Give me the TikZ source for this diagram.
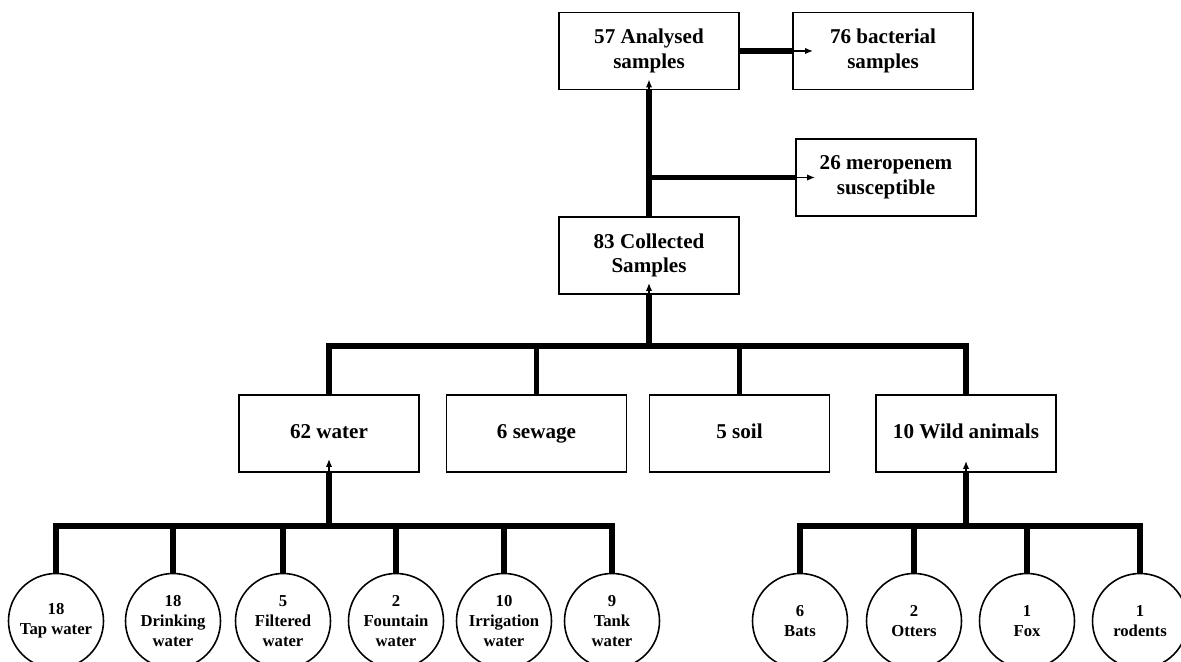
\documentclass[tikz,border=0pt]{standalone}
\usepackage{fontspec}
\setmainfont{Liberation Serif}
\usetikzlibrary{positioning, arrows.meta, calc}
\def\nodedistance{0.3cm}
\tikzstyle{arrow} = [black, -{Latex[length=4.5pt, width=3.6pt]}, line width=0.8pt]
\tikzstyle{connector} = [black, -, line width=3.4pt]
\tikzstyle{oneline} = [text height=1.7ex, text depth=0.5ex]
\newcommand{\tikzboxnode}{\node[
  draw=black, rectangle, line width=1.1pt, minimum width=3.6cm, minimum height=1.54cm, inner sep=0, align=center,
  font=\fontsize{12pt}{14pt}\selectfont\bfseries
]}
\newcommand{\tikzsourcenode}{\node[
  draw=black, circle, line width=0.9pt, minimum size=1.9cm, inner sep=0, align=center,
  font=\fontsize{9.5pt}{11.3pt}\selectfont\bfseries
]}

\begin{document}
\begin{tikzpicture}[node distance=\nodedistance]
    \useasboundingbox (0,0) rectangle (23.62,13.22);
    \clip (0,0) rectangle (23.62,13.22);

    % nodes
    \tikzboxnode at (12.98, 12.20) (analysed)   {57 Analysed\\samples};
    \tikzboxnode at (17.66, 12.20) (bacterial)  {76 bacterial\\samples};
    \tikzboxnode at (17.72, 9.67)  (meropenem)  {26 meropenem\\susceptible};
    \tikzboxnode at (12.98, 8.11)  (collected)  {83 Collected\\Samples};

    \tikzboxnode[oneline] at (6.58, 4.55)   (water)  {62 water};
    \tikzboxnode[oneline] at (10.73, 4.55)  (sewage) {6 sewage};
    \tikzboxnode[oneline] at (14.79, 4.55)  (soil)   {5 soil};
    \tikzboxnode[oneline] at (19.32, 4.55)  (wild)   {10 Wild animals};

    \tikzsourcenode at (1.12, 0.8)  (tap)        {18\\Tap water};
    \tikzsourcenode at (3.46, 0.8)  (drinking)   {18\\Drinking\\water};
    \tikzsourcenode at (5.66, 0.8)  (filtered)   {5\\Filtered\\water};
    \tikzsourcenode at (7.92, 0.8)  (fountain)   {2\\Fountain\\water};
    \tikzsourcenode at (10.08, 0.8) (irrigation) {10\\Irrigation\\water};
    \tikzsourcenode at (12.24, 0.8) (tank)       {9\\Tank\\water};

    \tikzsourcenode at (16.00, 0.8) (bats)       {6\\Bats};
    \tikzsourcenode at (18.28, 0.8) (otters)     {2\\Otters};
    \tikzsourcenode at (20.54, 0.8) (fox)        {1\\Fox};
    \tikzsourcenode at (22.80, 0.8) (rodents)    {1\\rodents};

    % bars
    \coordinate (collbar)  at ([yshift=-1.02cm]collected.south);
    \coordinate (waterbar) at ([yshift=-1.06cm]water.south);
    \coordinate (wildbar)  at ([yshift=-1.06cm]wild.south);

    % top
    \draw[connector] (analysed.east) -- (bacterial.west);
    \draw[arrow]     (bacterial.west) -- ([xshift=0.42cm]bacterial.west);
    \draw[connector] (collected.north) -- (analysed.south);
    \draw[arrow]     (analysed.south) -- ([yshift=0.22cm]analysed.south);
    \draw[connector] (collected.north |- meropenem.west) -- (meropenem.west);
    \draw[arrow]     (meropenem.west) -- ([xshift=0.4cm]meropenem.west);

    % sample types
    \draw[connector] (water.north) |- (collbar) -| (wild.north);
    \draw[connector] (sewage.north) -- (sewage.north |- collbar);
    \draw[connector] (soil.north) -- (soil.north |- collbar);
    \draw[connector] (collbar) -- (collected.south);
    \draw[arrow]     (collected.south) -- ([yshift=0.24cm]collected.south);

    % water
    \draw[connector] (tap.north) |- (waterbar) -| (tank.north);
    \draw[connector] (drinking.north) -- (drinking.north |- waterbar);
    \draw[connector] (filtered.north) -- (filtered.north |- waterbar);
    \draw[connector] (fountain.north) -- (fountain.north |- waterbar);
    \draw[connector] (irrigation.north) -- (irrigation.north |- waterbar);
    \draw[connector] (waterbar) -- (water.south);
    \draw[arrow]     (water.south) -- ([yshift=0.28cm]water.south);

    % wild animals
    \draw[connector] (bats.north) |- (wildbar) -| (rodents.north);
    \draw[connector] (otters.north) -- (otters.north |- wildbar);
    \draw[connector] (fox.north) -- (fox.north |- wildbar);
    \draw[connector] (wildbar) -- (wild.south);
    \draw[arrow]     (wild.south) -- ([yshift=0.24cm]wild.south);
\end{tikzpicture}
\end{document}
